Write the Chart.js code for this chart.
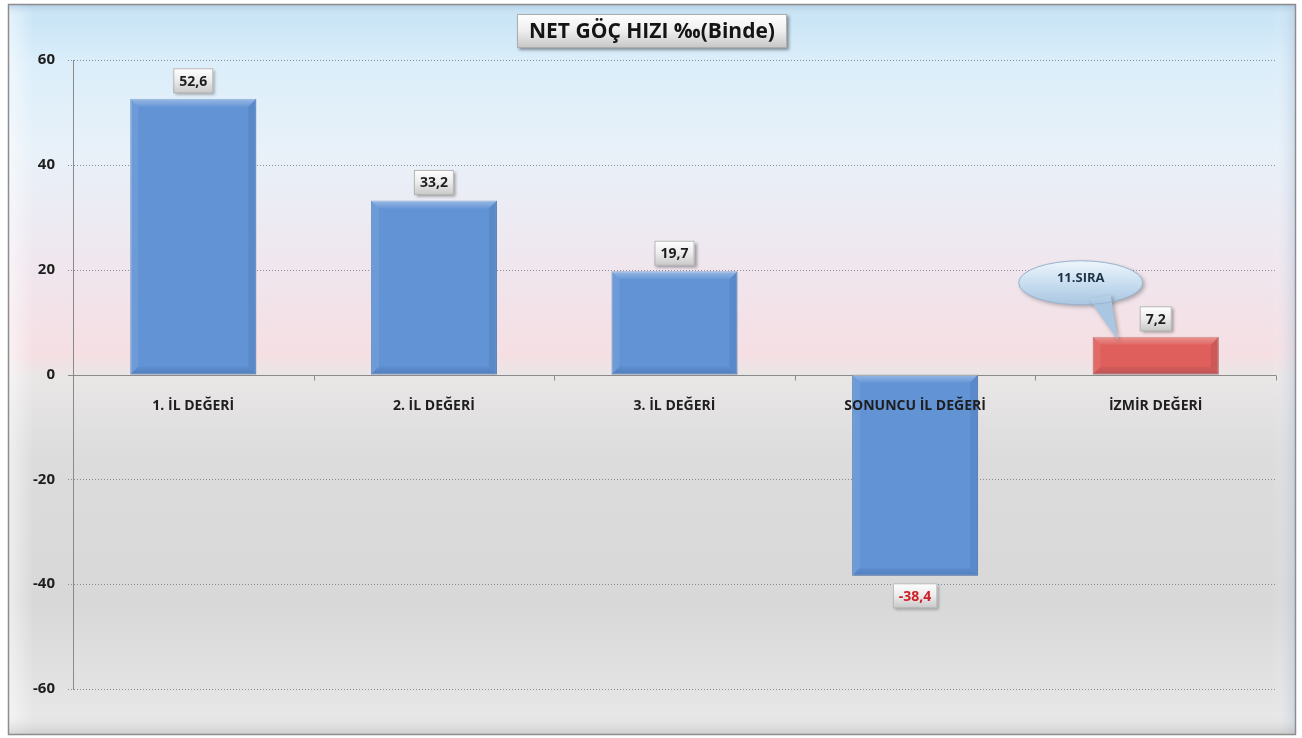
<!DOCTYPE html>
<html lang="tr">
<head>
<meta charset="utf-8">
<title>NET GÖÇ HIZI</title>
<script src="https://cdn.jsdelivr.net/npm/chart.js@4.4.1/dist/chart.umd.min.js"></script>
<style>
  html, body { margin: 0; padding: 0; background: #ffffff; }
  #wrap { width: 1302px; height: 738px; position: relative; }
</style>
</head>
<body>
<div id="wrap"><canvas id="chart" width="1302" height="738"></canvas></div>
<script>
/* Data */
var categories = ['1. İL DEĞERİ', '2. İL DEĞERİ', '3. İL DEĞERİ', 'SONUNCU İL DEĞERİ', 'İZMİR DEĞERİ'];
var values = [52.6, 33.2, 19.7, -38.4, 7.2];
var valueLabels = ['52,6', '33,2', '19,7', '-38,4', '7,2'];
var yTicks = [-60, -40, -20, 0, 20, 40, 60];
var titleText = 'NET GÖÇ HIZI ‰(Binde)';
var calloutText = '11.SIRA';
var calloutIndex = 4;

var FONT = '"Open Sans", "Noto Sans", sans-serif';

function barColor(i) { return i === calloutIndex ? '#DE5F5B' : '#6193D5'; }
function barBorder(i) { return i === calloutIndex ? '#B8524E' : '#5482C0'; }

/* Label box like the Excel data labels */
function labelBox(ctx, cx, cy, text, color, font) {
  ctx.font = font;
  var w = ctx.measureText(text).width + 12;
  var h = 25;
  var x = cx - w / 2, y = cy - h / 2;
  ctx.save();
  ctx.shadowColor = 'rgba(0,0,0,0.35)';
  ctx.shadowOffsetX = 2;
  ctx.shadowOffsetY = 2;
  ctx.shadowBlur = 3;
  var g = ctx.createLinearGradient(0, y, 0, y + h);
  g.addColorStop(0, '#ffffff');
  g.addColorStop(0.5, '#ebebeb');
  g.addColorStop(1, '#c8c8c8');
  ctx.fillStyle = g;
  ctx.fillRect(x, y, w, h);
  ctx.restore();
  ctx.strokeStyle = '#b5b5b5';
  ctx.lineWidth = 1;
  ctx.strokeRect(x + 0.5, y + 0.5, w - 1, h - 1);
  ctx.fillStyle = color;
  ctx.textAlign = 'center';
  ctx.textBaseline = 'middle';
  ctx.fillText(text, cx, cy + 1);
}

/* Background frame, grid, zero line */
var backdrop = {
  id: 'backdrop',
  beforeDraw: function(chart) {
    var ctx = chart.ctx;
    var W = chart.width, H = chart.height;
    ctx.save();
    ctx.fillStyle = '#ffffff';
    ctx.fillRect(0, 0, W, H);
    var fx = 8, fy = 4, fw = W - 14, fh = H - 7;
    var g = ctx.createLinearGradient(0, fy, 0, fy + fh);
    g.addColorStop(0, '#c4e2f5');
    g.addColorStop(0.08, '#dbeefa');
    g.addColorStop(0.2, '#e8f1f9');
    g.addColorStop(0.36, '#f0e6ee');
    g.addColorStop(0.48, '#f5dfe3');
    g.addColorStop(0.51, '#e9e6e6');
    g.addColorStop(0.62, '#dcdcdc');
    g.addColorStop(0.82, '#d8d8d8');
    g.addColorStop(1, '#e9e9e9');
    ctx.fillStyle = g;
    ctx.fillRect(fx, fy, fw, fh);
    /* bevel edges */
    var lg = ctx.createLinearGradient(fx, 0, fx + 26, 0);
    lg.addColorStop(0, 'rgba(255,255,255,0.55)');
    lg.addColorStop(1, 'rgba(255,255,255,0)');
    ctx.fillStyle = lg;
    ctx.fillRect(fx, fy, 26, fh);
    var rg = ctx.createLinearGradient(fx + fw - 24, 0, fx + fw, 0);
    rg.addColorStop(0, 'rgba(255,255,255,0)');
    rg.addColorStop(1, 'rgba(170,190,215,0.45)');
    ctx.fillStyle = rg;
    ctx.fillRect(fx + fw - 24, fy, 24, fh);
    var bg = ctx.createLinearGradient(0, fy + fh - 24, 0, fy + fh);
    bg.addColorStop(0, 'rgba(255,255,255,0)');
    bg.addColorStop(1, 'rgba(150,150,150,0.35)');
    ctx.fillStyle = bg;
    ctx.fillRect(fx, fy + fh - 24, fw, 24);
    var tg = ctx.createLinearGradient(0, fy, 0, fy + 14);
    tg.addColorStop(0, 'rgba(140,170,200,0.45)');
    tg.addColorStop(1, 'rgba(255,255,255,0)');
    ctx.fillStyle = tg;
    ctx.fillRect(fx, fy, fw, 14);
    ctx.strokeStyle = '#8d8d8d';
    ctx.lineWidth = 1.5;
    ctx.strokeRect(fx + 0.5, fy + 0.5, fw - 1, fh - 1);

    /* dotted grid lines */
    var ys = chart.scales.y, a = chart.chartArea;
    ctx.lineWidth = 1;
    yTicks.forEach(function(t) {
      var py = Math.round(ys.getPixelForValue(t)) + 0.5;
      if (t === 0) return;
      ctx.strokeStyle = '#8a8a9a';
      ctx.setLineDash([1, 2]);
      ctx.beginPath();
      ctx.moveTo(a.left - 5, py);
      ctx.lineTo(a.right, py);
      ctx.stroke();
    });
    ctx.restore();
  },
  afterDatasetsDraw: function(chart) {
    var ctx = chart.ctx;
    var ys = chart.scales.y, xs = chart.scales.x, a = chart.chartArea;
    var meta = chart.getDatasetMeta(0);
    ctx.save();

    /* zero line with category ticks */
    var zy = Math.round(ys.getPixelForValue(0)) + 0.5;
    ctx.strokeStyle = '#8a8a8a';
    ctx.lineWidth = 1;
    ctx.beginPath();
    ctx.moveTo(a.left - 5, zy);
    ctx.lineTo(a.right, zy);
    ctx.stroke();
    var step = (a.right - a.left) / categories.length;
    for (var k = 1; k <= categories.length; k++) {
      var tx = Math.round(a.left + step * k) + 0.5;
      ctx.beginPath();
      ctx.moveTo(tx, zy);
      ctx.lineTo(tx, zy + 5);
      ctx.stroke();
    }

    /* soft bevel on bars */
    meta.data.forEach(function(bar, i) {
      var p = bar.getProps(['x', 'y', 'base', 'width'], true);
      var l = p.x - p.width / 2, r = p.x + p.width / 2;
      var t = Math.min(p.y, p.base), b = Math.max(p.y, p.base);
      var e = Math.min(8, (b - t) / 2);
      var top = ctx.createLinearGradient(0, t, 0, t + e);
      top.addColorStop(0, 'rgba(255,255,255,0.35)');
      top.addColorStop(1, 'rgba(255,255,255,0.05)');
      ctx.fillStyle = top;
      ctx.beginPath();
      ctx.moveTo(l, t); ctx.lineTo(r, t); ctx.lineTo(r - e, t + e); ctx.lineTo(l + e, t + e);
      ctx.closePath(); ctx.fill();
      ctx.fillStyle = 'rgba(255,255,255,0.08)';
      ctx.beginPath();
      ctx.moveTo(l, t); ctx.lineTo(l + e, t + e); ctx.lineTo(l + e, b - e); ctx.lineTo(l, b);
      ctx.closePath(); ctx.fill();
      ctx.fillStyle = 'rgba(0,20,60,0.08)';
      ctx.beginPath();
      ctx.moveTo(r, t); ctx.lineTo(r - e, t + e); ctx.lineTo(r - e, b - e); ctx.lineTo(r, b);
      ctx.closePath(); ctx.fill();
      var bot = ctx.createLinearGradient(0, b - e, 0, b);
      bot.addColorStop(0, 'rgba(0,20,60,0.04)');
      bot.addColorStop(1, 'rgba(0,20,60,0.16)');
      ctx.fillStyle = bot;
      ctx.beginPath();
      ctx.moveTo(l, b); ctx.lineTo(r, b); ctx.lineTo(r - e, b - e); ctx.lineTo(l + e, b - e);
      ctx.closePath(); ctx.fill();
    });

    /* category labels under the zero line */
    ctx.font = 'bold 14px ' + FONT;
    ctx.fillStyle = '#1e1e1e';
    ctx.textAlign = 'center';
    ctx.textBaseline = 'middle';
    categories.forEach(function(c, i) {
      ctx.fillText(c, xs.getPixelForValue(i), zy + 31);
    });

    /* value labels */
    meta.data.forEach(function(bar, i) {
      var p = bar.getProps(['x', 'y'], true);
      var neg = values[i] < 0;
      var cy = neg ? p.y + 20 : p.y - 18;
      labelBox(ctx, p.x, cy, valueLabels[i], neg ? '#d0202a' : '#1e1e1e', 'bold 14px ' + FONT);
    });

    /* callout bubble */
    var cb = meta.data[calloutIndex].getProps(['x', 'y'], true);
    var ex = cb.x - 75, ey = cb.y - 54, rx = 62, ry = 22;
    ctx.save();
    ctx.shadowColor = 'rgba(0,0,0,0.3)';
    ctx.shadowOffsetX = 2; ctx.shadowOffsetY = 2; ctx.shadowBlur = 4;
    var cg = ctx.createLinearGradient(0, ey - ry, 0, ey + ry);
    cg.addColorStop(0, '#eef6fc');
    cg.addColorStop(0.5, '#c9def0');
    cg.addColorStop(1, '#a9c6e2');
    ctx.fillStyle = cg;
    ctx.beginPath();
    ctx.ellipse(ex, ey, rx, ry, 0, 0, Math.PI * 2);
    ctx.fill();
    ctx.beginPath();
    ctx.moveTo(ex + 8, ey + ry - 6);
    ctx.lineTo(cb.x - 38, cb.y + 3);
    ctx.lineTo(ex + 30, ey + ry - 10);
    ctx.closePath();
    ctx.fill();
    ctx.restore();
    ctx.strokeStyle = '#9ab4cf';
    ctx.lineWidth = 1;
    ctx.beginPath();
    ctx.ellipse(ex, ey, rx, ry, 0, 0, Math.PI * 2);
    ctx.stroke();
    ctx.font = 'bold 13px ' + FONT;
    ctx.fillStyle = '#1f3347';
    ctx.textAlign = 'center';
    ctx.textBaseline = 'middle';
    ctx.fillText(calloutText, ex, ey - 4);

    /* title box */
    ctx.font = 'bold 21px ' + FONT;
    var tw = ctx.measureText(titleText).width + 24;
    var tcx = chart.width / 2 + 1, tcy = 31;
    ctx.save();
    ctx.shadowColor = 'rgba(0,0,0,0.4)';
    ctx.shadowOffsetX = 2; ctx.shadowOffsetY = 2; ctx.shadowBlur = 3;
    var tg2 = ctx.createLinearGradient(0, tcy - 17, 0, tcy + 17);
    tg2.addColorStop(0, '#ffffff');
    tg2.addColorStop(0.5, '#eeeeee');
    tg2.addColorStop(1, '#c6c6c6');
    ctx.fillStyle = tg2;
    ctx.fillRect(tcx - tw / 2, tcy - 17, tw, 34);
    ctx.restore();
    ctx.strokeStyle = '#adadad';
    ctx.strokeRect(tcx - tw / 2 + 0.5, tcy - 16.5, tw - 1, 33);
    ctx.fillStyle = '#141414';
    ctx.textAlign = 'center';
    ctx.textBaseline = 'middle';
    ctx.fillText(titleText, tcx, tcy + 1);
    ctx.restore();
  }
};

new Chart(document.getElementById('chart'), {
  type: 'bar',
  data: {
    labels: categories,
    datasets: [{
      data: values,
      backgroundColor: values.map(function(v, i) { return barColor(i); }),
      borderColor: values.map(function(v, i) { return barBorder(i); }),
      borderWidth: 1,
      borderSkipped: false,
      barPercentage: 0.524,
      categoryPercentage: 1
    }]
  },
  options: {
    responsive: false,
    animation: false,
    layout: { padding: { left: 0, right: 26, top: 60, bottom: 49 } },
    plugins: { legend: { display: false }, tooltip: { enabled: false }, title: { display: false } },
    scales: {
      x: { display: false },
      y: {
        min: -60,
        max: 60,
        afterFit: function(s) { s.width = 73; },
        afterBuildTicks: function(s) { s.ticks = yTicks.map(function(v) { return { value: v }; }); },
        grid: { display: false },
        border: { display: true, color: '#8a8a8a', width: 1 },
        ticks: {
          color: '#1e1e1e',
          padding: 10,
          font: { family: FONT, size: 15, weight: 'bold' }
        }
      }
    }
  },
  plugins: [backdrop]
});
</script>
</body>
</html>
